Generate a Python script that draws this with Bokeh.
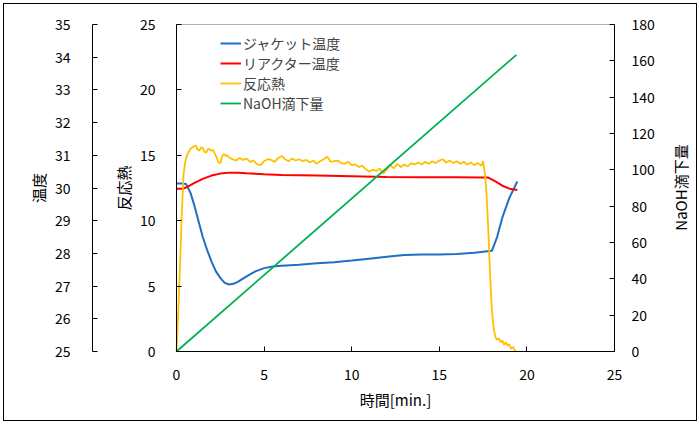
from math import pi
from bokeh.plotting import figure
from bokeh.models import (Range1d, LinearAxis, SingleIntervalTicker, Legend, LegendItem,
                          Label, BoxAnnotation)
from bokeh.embed import file_html
from bokeh.resources import INLINE

# ---------------- data ----------------
t_jacket = [0.0, 0.3, 0.55, 0.8, 1.0, 1.25, 1.5, 1.75, 2.0, 2.25, 2.5, 2.75, 3.0, 3.25, 3.5,
            4.0, 4.5, 5.0, 5.5, 6.0, 7.0, 8.0, 9.0, 10.0, 11.0, 12.0, 13.0, 14.0, 15.0,
            16.0, 17.0, 17.5, 18.0, 18.3, 18.6, 19.0, 19.45]
jacket_temp = [30.14, 30.14, 30.12, 29.85, 29.5, 29.0, 28.5, 28.1, 27.75, 27.45, 27.25, 27.1,
               27.05, 27.07, 27.13, 27.3, 27.45, 27.55, 27.6, 27.62, 27.65, 27.7, 27.73, 27.78,
               27.84, 27.9, 27.95, 27.97, 27.97, 27.98, 28.02, 28.05, 28.08, 28.5, 29.1, 29.7,
               30.2]

t_reactor = [0.0, 0.4, 0.6, 1.0, 1.5, 2.0, 2.5, 3.0, 3.5, 4.0, 5.0, 6.0, 8.0, 10.0, 12.0,
             14.0, 16.0, 17.5, 17.8, 18.2, 18.6, 19.0, 19.45]
reactor_temp = [29.98, 29.98, 30.03, 30.15, 30.28, 30.38, 30.44, 30.47, 30.47, 30.45, 30.42,
                30.4, 30.38, 30.36, 30.34, 30.33, 30.33, 30.32, 30.32, 30.2, 30.07, 29.98, 29.94]

t_heat = [0.0, 0.1, 0.2, 0.3, 0.4, 0.5, 0.6, 0.7, 0.8, 0.9, 1.0, 1.1, 1.2, 1.3, 1.4, 1.5,
          1.6, 1.7, 1.8, 1.9, 2.0, 2.1, 2.2, 2.3, 2.4, 2.5, 2.6, 2.7, 2.8, 2.9,
          3.0, 3.2, 3.4, 3.6, 3.8, 4.0, 4.2, 4.4, 4.6, 4.8, 5.0, 5.2, 5.4, 5.6, 5.8,
          6.0, 6.2, 6.4, 6.6, 6.8, 7.0, 7.2, 7.4, 7.6, 7.8, 8.0, 8.2, 8.4, 8.6, 8.8,
          9.0, 9.2, 9.4, 9.6, 9.8, 10.0, 10.2, 10.4, 10.6, 10.8, 11.0, 11.2, 11.4, 11.6, 11.8,
          12.0, 12.2, 12.4, 12.6, 12.8, 13.0, 13.2, 13.4, 13.6, 13.8, 14.0, 14.2, 14.4, 14.6, 14.8,
          15.0, 15.2, 15.4, 15.6, 15.8, 16.0, 16.2, 16.4, 16.6, 16.8, 17.0, 17.2, 17.4, 17.5,
          17.6, 17.7, 17.8, 17.9, 18.0, 18.1, 18.2, 18.3, 18.4, 18.5, 18.6, 18.7, 18.8, 18.9,
          19.0, 19.1, 19.2, 19.3, 19.4]
heat = [0.0, 3.0, 6.5, 10.5, 13.5, 14.5, 15.0, 15.3, 15.5, 15.6, 15.7, 15.75, 15.45, 15.35,
        15.6, 15.55, 15.25, 15.2, 15.5, 15.45, 15.35, 15.4, 15.1, 14.8, 14.45, 14.4, 14.9,
        15.1, 14.95, 15.0,
        14.85, 14.7, 14.6, 14.8, 14.65, 14.75, 14.5, 14.6, 14.3, 14.25, 14.55, 14.7, 14.65,
        14.5, 14.8, 14.95, 14.7, 14.55, 14.75, 14.6, 14.7, 14.55, 14.65, 14.45, 14.6, 14.35,
        14.55, 14.7, 14.9, 14.5, 14.55, 14.6, 14.4, 14.35, 14.5, 14.25, 14.3, 14.1, 14.2,
        13.95, 13.75, 13.9, 13.8, 14.0, 13.6, 13.9, 14.25, 14.0, 14.35, 14.1, 14.3, 14.15,
        14.4, 14.3, 14.45, 14.3, 14.5, 14.35, 14.55, 14.4, 14.6, 14.7, 14.45, 14.6, 14.4,
        14.55, 14.35, 14.5, 14.3, 14.45, 14.25, 14.4, 14.2, 14.55,
        13.6, 12.0, 9.2, 5.8, 3.2, 1.8, 1.1, 0.9, 1.0, 0.7, 0.85, 0.5, 0.7, 0.45,
        0.55, 0.2, 0.35, 0.1, 0.0]

t_naoh = [0.0, 19.4]
naoh = [0.0, 163.3]

time_limits = (0, 25)
heat_limits = (0, 25)
temp_limits = (25, 35)
naoh_limits = (0, 180)

series_names = ["ジャケット温度", "リアクター温度", "反応熱", "NaOH滴下量"]
series_colors = ["#1F6FC5", "#FF0000", "#FFC000", "#00B050"]

FONT = "Noto Sans CJK JP"
FS = "14px"

# ---------------- layout constants (page pixels) ----------------
CX0, CY0 = 4, 4          # canvas origin on the page (3px margin + 1px border)
CW, CH = 692, 416        # canvas size
BOX_L, BOX_R, BOX_T, BOX_B = 176, 614, 24, 351   # plot-area box
TEMP_AXIS_X = 92         # page x of the temperature axis line
NAOH_TITLE_X, NAOH_TITLE_Y = 680, 187


def hspan(lo, hi):
    """x range putting lo at BOX_L and hi at BOX_R; returns (start, end, units per px)"""
    k = (hi - lo) / (BOX_R - BOX_L)
    return lo - (BOX_L - CX0) * k, hi + (CX0 + CW - BOX_R) * k, k


def vspan(lo, hi):
    """y range putting lo at BOX_B and hi at BOX_T; returns (start, end, units per px)"""
    k = (hi - lo) / (BOX_B - BOX_T)
    return lo - (CY0 + CH - BOX_B) * k, hi + (BOX_T - CY0) * k, k


xs0, xs1, kx = hspan(*time_limits)
hs0, hs1, kh = vspan(*heat_limits)
ts0, ts1, kt = vspan(*temp_limits)
ns0, ns1, kn = vspan(*naoh_limits)

# ---------------- figure ----------------
p = figure(frame_width=CW, frame_height=CH, output_backend="svg", toolbar_location=None,
           x_range=Range1d(xs0, xs1), y_range=Range1d(hs0, hs1),
           x_axis_location=None, y_axis_location=None,
           min_border_left=0, min_border_right=0, min_border_top=0, min_border_bottom=0)
p.extra_y_ranges = {"temp": Range1d(ts0, ts1), "naoh": Range1d(ns0, ns1)}
p.xgrid.grid_line_color = None
p.ygrid.grid_line_color = None
p.outline_line_color = None
p.background_fill_color = "white"
p.border_fill_color = "white"
p.styles = {"border": "1px solid black", "margin": "3px 0 0 3px"}


def style_axis(ax, interval, standoff):
    ax.ticker = SingleIntervalTicker(interval=interval, num_minor_ticks=0)
    ax.major_tick_in = 5
    ax.major_tick_out = 0
    ax.minor_tick_in = 0
    ax.minor_tick_out = 0
    ax.axis_line_color = "black"
    ax.major_tick_line_color = "black"
    ax.major_label_text_font = FONT
    ax.major_label_text_font_size = FS
    ax.major_label_text_color = "black"
    ax.major_label_standoff = standoff
    ax.axis_label_text_font = FONT
    ax.axis_label_text_font_size = "15px"
    ax.axis_label_text_font_style = "normal"
    ax.axis_label_text_color = "black"


# plot-area box
p.add_layout(BoxAnnotation(left=time_limits[0], right=time_limits[1],
                           bottom=heat_limits[0], top=heat_limits[1],
                           fill_alpha=0, line_color="black", line_width=1))

xa = LinearAxis(fixed_location=heat_limits[0], bounds=time_limits)
style_axis(xa, 5, 17)
xa.axis_label = "時間[min.]"
xa.axis_label_standoff = 6
p.add_layout(xa, "below")

ya = LinearAxis(fixed_location=time_limits[0], bounds=heat_limits)
style_axis(ya, 5, 21)
ya.axis_label = "反応熱"
ya.axis_label_standoff = 3
p.add_layout(ya, "left")

temp_axis = LinearAxis(y_range_name="temp", fixed_location=(TEMP_AXIS_X - BOX_L) * kx,
                       bounds=temp_limits)
style_axis(temp_axis, 1, 22)
temp_axis.axis_label = "温度"
temp_axis.axis_label_standoff = 3
p.add_layout(temp_axis, "left")

naoh_axis = LinearAxis(y_range_name="naoh", fixed_location=time_limits[1], bounds=naoh_limits)
style_axis(naoh_axis, 20, 17)
p.add_layout(naoh_axis, "right")

p.add_layout(Label(x=time_limits[1] + (NAOH_TITLE_X - BOX_R) * kx,
                   y=naoh_limits[0] + (BOX_B - NAOH_TITLE_Y) * kn, y_range_name="naoh",
                   text="NaOH滴下量", angle=pi / 2, text_align="center",
                   text_baseline="middle", text_font=FONT, text_font_size="15px",
                   text_color="black"))

# ---------------- lines ----------------
r_jacket = p.line(t_jacket, jacket_temp, y_range_name="temp", line_color=series_colors[0], line_width=2)
r_reactor = p.line(t_reactor, reactor_temp, y_range_name="temp", line_color=series_colors[1], line_width=2)
r_heat = p.line(t_heat, heat, line_color=series_colors[2], line_width=1.8)
r_naoh = p.line(t_naoh, naoh, y_range_name="naoh", line_color=series_colors[3], line_width=1.8)

legend = Legend(items=[LegendItem(label=n, renderers=[r]) for n, r in
                       zip(series_names, [r_jacket, r_reactor, r_heat, r_naoh])],
                location=(220 - CX0, CY0 + CH - 113))
legend.border_line_color = None
legend.background_fill_alpha = 0
legend.label_text_font = FONT
legend.label_text_font_size = FS
legend.glyph_width = 21
legend.glyph_height = 20
legend.label_height = 20
legend.spacing = 0
legend.padding = 0
legend.margin = 0
legend.label_standoff = 2
p.add_layout(legend)

open("out.html", "w").write(file_html(p, INLINE))
